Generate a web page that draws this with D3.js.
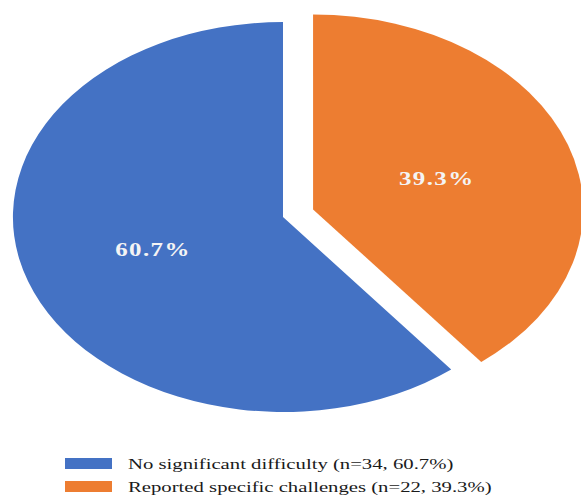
<!DOCTYPE html>
<html>
<head>
<meta charset="utf-8">
<script src="https://cdn.jsdelivr.net/npm/d3@7"></script>
<style>
  body { margin: 0; background: #fff; }
  svg { display: block; }
</style>
</head>
<body>
<svg id="chart"></svg>
<script>
// data
const categories = ['No significant difficulty', 'Reported specific challenges']
const counts = [34, 22]
const percents = [60.7, 39.3]
const colors = ['#4472C4', '#ED7D31']

const width = 581
const height = 495
const svg = d3.select('#chart')
  .attr('width', width)
  .attr('height', height)

// the pie is stretched horizontally into an ellipse
const cx = 283
const cy = 217
const r = 195
const sx = 1.385
const explode = 23

const slices = categories.map((c, i) => ({ name: c, n: counts[i], pct: percents[i], color: colors[i] }))

// orange starts at 12 o'clock, blue follows
const pie = d3.pie()
  .value(d => d.pct)
  .sort(null)
const arcs = pie([slices[1], slices[0]])

const arc = d3.arc().innerRadius(0).outerRadius(r)
const labelArc = d3.arc().innerRadius(r).outerRadius(r)

const g = svg.append('g')
  .attr('transform', `translate(${cx},${cy}) scale(${sx},1)`)

const slice = g.selectAll('g.slice')
  .data(arcs)
  .enter()
  .append('g')
  .attr('class', 'slice')
  .attr('transform', d => {
    if (d.data.name !== categories[1]) return null
    const mid = (d.startAngle + d.endAngle) / 2
    return `translate(${explode * Math.sin(mid)},${-explode * Math.cos(mid)})`
  })

slice.append('path')
  .attr('d', arc)
  .attr('fill', d => d.data.color)

// label sits about half way out, a bit further for the big slice
slice.append('text')
  .attr('transform', d => {
    const [x, y] = labelArc.centroid(d)
    const k = d.data.name === categories[0] ? 0.51 : 0.485
    return `translate(${x * k},${y * k})`
  })
  .attr('text-anchor', 'middle')
  .attr('dy', '0.35em')
  .style('font-family', '"Liberation Serif", "Times New Roman", serif')
  .style('font-weight', 'bold')
  .style('font-size', '18px')
  .style('letter-spacing', '1px')
  .style('fill', '#f4f4f4')
  .text(d => d.data.pct.toFixed(1) + '%')

// legend
const legend = svg.append('g')
  .attr('transform', 'translate(65,458)')

const item = legend.selectAll('g')
  .data(slices)
  .enter()
  .append('g')
  .attr('transform', (d, i) => `translate(0,${i * 23})`)

item.append('rect')
  .attr('width', 47)
  .attr('height', 11)
  .attr('fill', d => d.color)

item.append('text')
  .attr('transform', 'translate(63,11) scale(1.48,1)')
  .style('font-family', '"Liberation Serif", "Times New Roman", serif')
  .style('font-size', '14px')
  .style('fill', '#1a1a1a')
  .text(d => `${d.name} (n=${d.n}, ${d.pct.toFixed(1)}%)`)
</script>
</body>
</html>
